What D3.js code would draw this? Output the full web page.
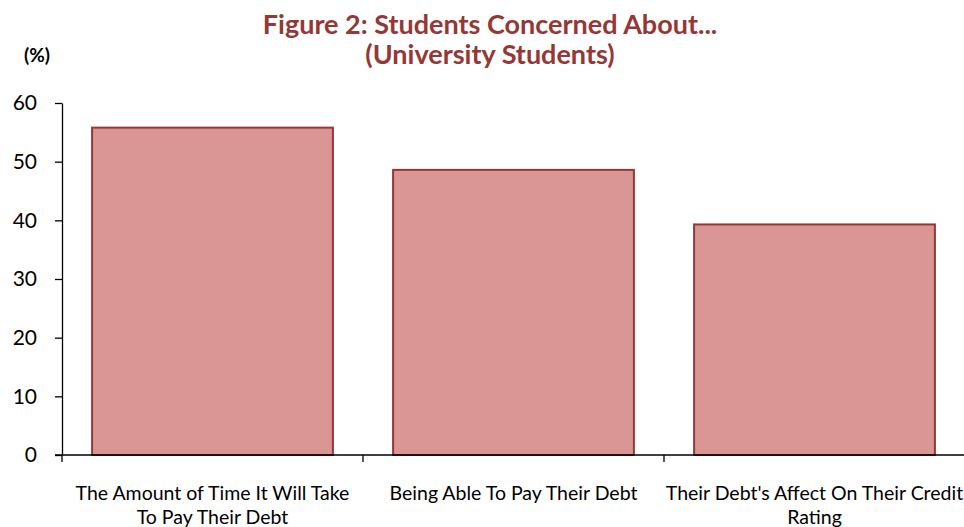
<!DOCTYPE html>
<html><head><meta charset="utf-8">
<script src="https://cdn.jsdelivr.net/npm/d3@7"></script>
<style>body{margin:0;background:#fff}svg{display:block}</style>
</head><body>
<script>
const categories = [
  ["The Amount of Time It Will Take", "To Pay Their Debt"],
  ["Being Able To Pay Their Debt"],
  ["Their Debt's Affect On Their Credit", "Rating"]
];
const values = [55.8, 48.6, 39.3];
const yTicks = [0, 10, 20, 30, 40, 50, 60];
const titleLines = ["Figure 2: Students Concerned About...", "(University Students)"];
const unitLabel = "(%)";

(function () {
const W = 964, H = 527;
const font = "Lato, 'Open Sans', sans-serif";
const svg = d3.select("body").append("svg").attr("width", W).attr("height", H);

const mLeft = 62, mRight = 965, mTop = 103, mBottom = 455;
const x = d3.scaleBand().domain(d3.range(categories.length)).range([mLeft, mRight]).paddingInner(0.2).paddingOuter(0.1);
const y = d3.scaleLinear().domain([0, 60]).range([mBottom, mTop]);

svg.selectAll("rect.bar").data(values).join("rect").attr("class", "bar")
  .attr("x", (d, i) => x(i)).attr("width", x.bandwidth())
  .attr("y", d => y(d)).attr("height", d => y(0) - y(d))
  .attr("fill", "#D99694").attr("stroke", "#953735").attr("stroke-width", 2);

// y axis
const yAxis = svg.append("g").attr("transform", `translate(${mLeft},0)`)
  .call(d3.axisLeft(y).tickValues(yTicks).tickSize(7).tickPadding(18).tickSizeOuter(0));
yAxis.select(".domain").attr("stroke", "#000").attr("stroke-width", 1.3);
yAxis.selectAll(".tick line").attr("stroke", "#000").attr("stroke-width", 1.3);
yAxis.selectAll(".tick text").attr("font-family", font).attr("font-size", 21).attr("fill", "#000");

// x axis
const bounds = d3.range(categories.length + 1).map(i => mLeft + i * x.step());
const xg = svg.append("g");
xg.append("line").attr("x1", mLeft - 7).attr("x2", mRight).attr("y1", mBottom).attr("y2", mBottom).attr("stroke", "#000").attr("stroke-width", 1.3);
xg.selectAll("line.tk").data(bounds).join("line").attr("class", "tk")
  .attr("x1", d => d).attr("x2", d => d).attr("y1", mBottom).attr("y2", mBottom + 7)
  .attr("stroke", "#000").attr("stroke-width", 1.3);
categories.forEach((lines, i) => {
  const cx = x(i) + x.bandwidth() / 2;
  const t = xg.append("text").attr("x", cx).attr("y", 500)
    .attr("text-anchor", "middle").attr("font-family", font).attr("font-size", 19.5).attr("fill", "#000");
  lines.forEach((l, j) => t.append("tspan").attr("x", cx).attr("dy", j ? 24 : 0).text(l));
});

// titles
titleLines.forEach((l, j) => svg.append("text").attr("x", 490).attr("y", 34 + j * 30)
  .attr("text-anchor", "middle").attr("font-family", font).attr("font-weight", "bold")
  .attr("font-size", 27).attr("fill", "#953735").text(l));
svg.append("text").attr("x", 37).attr("y", 62).attr("text-anchor", "middle")
  .attr("font-family", font).attr("font-weight", "bold").attr("font-size", 19).attr("fill", "#000").text(unitLabel);
})();
</script>
</body></html>
